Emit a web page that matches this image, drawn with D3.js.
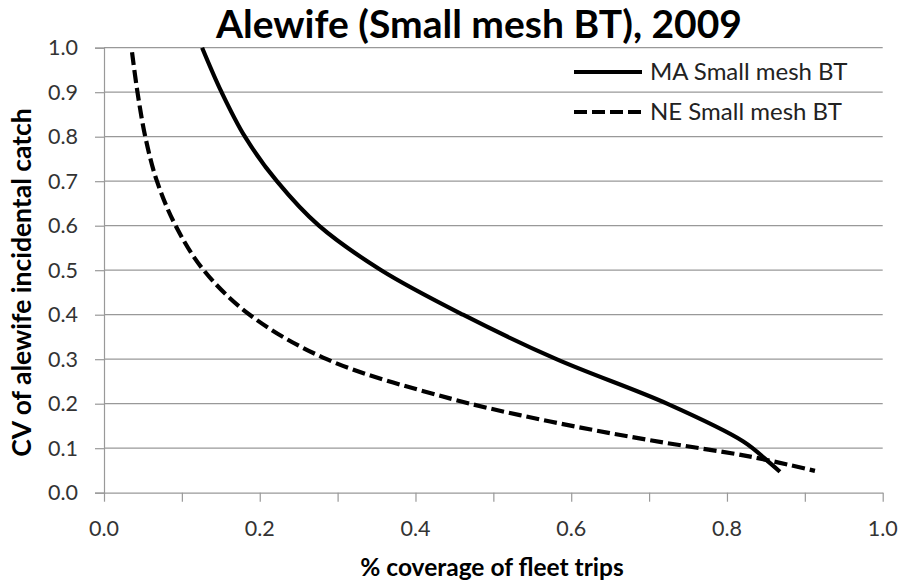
<!DOCTYPE html>
<html>
<head>
<meta charset="utf-8">
<script src="https://cdn.jsdelivr.net/npm/d3@7"></script>
<style>
  body { margin: 0; background: #fff; }
  text { font-family: Lato, "Open Sans", sans-serif; }
</style>
</head>
<body>
<svg id="chart"></svg>
<script>
// Series
const maX = [0.126, 0.151, 0.181, 0.222, 0.276, 0.356, 0.461, 0.581, 0.723, 0.821, 0.855, 0.868];
const maY = [1.0, 0.9, 0.8, 0.7, 0.6, 0.5, 0.4, 0.3, 0.2, 0.115, 0.067, 0.047];
const neX = [0.036, 0.043, 0.053, 0.068, 0.092, 0.128, 0.187, 0.286, 0.444, 0.573, 0.701, 0.830, 0.913];
const neY = [0.99, 0.9, 0.8, 0.7, 0.6, 0.5, 0.4, 0.3, 0.212, 0.160, 0.118, 0.081, 0.049];
const seriesNames = ['MA Small mesh BT', 'NE Small mesh BT'];
const yTicks = [0, 0.1, 0.2, 0.3, 0.4, 0.5, 0.6, 0.7, 0.8, 0.9, 1.0];
const xTicks = [0, 0.2, 0.4, 0.6, 0.8, 1.0];
const xMinorTicks = [0, 0.1, 0.2, 0.3, 0.4, 0.5, 0.6, 0.7, 0.8, 0.9, 1.0];

const width = 901;
const height = 583;
const margin = {top: 47.7, right: 18.3, bottom: 90.3, left: 104};

let svg = d3.select('#chart')
    .attr('width', width)
    .attr('height', height);

let x = d3.scaleLinear()
    .domain([0, 1])
    .range([margin.left, width - margin.right]);

let y = d3.scaleLinear()
    .domain([0, 1])
    .range([height - margin.bottom, margin.top]);

// Horizontal gridlines
svg.append('g')
    .selectAll('line')
    .data(yTicks.slice(1))
    .join('line')
    .attr('x1', x(0))
    .attr('x2', x(1))
    .attr('y1', d => y(d))
    .attr('y2', d => y(d))
    .attr('stroke', '#999')
    .attr('stroke-width', 1.2);

// Y axis
let yAxis = svg.append('g')
    .attr('transform', 'translate(' + x(0) + ',0)')
    .call(d3.axisLeft(y).tickValues(yTicks).tickFormat(d3.format('.1f')).tickSize(9).tickPadding(17));
yAxis.select('.domain').attr('stroke', '#999').attr('stroke-width', 1.2);
yAxis.selectAll('.tick line').attr('stroke', '#999').attr('stroke-width', 1.2);
yAxis.selectAll('.tick text')
    .attr('font-size', 21.5)
    .attr('fill', '#333')
    .attr('font-family', 'Lato, sans-serif');

// X axis: minor ticks every 0.1, labels every 0.2
let xAxis = svg.append('g')
    .attr('transform', 'translate(0,' + y(0) + ')')
    .call(d3.axisBottom(x).tickValues(xMinorTicks).tickFormat('').tickSize(9).tickSizeOuter(0));
xAxis.select('.domain').attr('stroke', '#999').attr('stroke-width', 1.2);
xAxis.selectAll('.tick line').attr('stroke', '#999').attr('stroke-width', 1.2);

svg.append('g')
    .selectAll('text')
    .data(xTicks)
    .join('text')
    .attr('x', d => x(d))
    .attr('y', y(0) + 43)
    .attr('text-anchor', 'middle')
    .attr('font-size', 21.5)
    .attr('fill', '#333')
    .text(d => d3.format('.1f')(d));

// Lines
let line = d3.line()
    .x(d => x(d[0]))
    .y(d => y(d[1]))
    .curve(d3.curveCatmullRom.alpha(0.5));

svg.append('path')
    .datum(d3.zip(maX, maY))
    .attr('fill', 'none')
    .attr('stroke', '#000')
    .attr('stroke-width', 4.2)
    .attr('d', line);

svg.append('path')
    .datum(d3.zip(neX, neY))
    .attr('fill', 'none')
    .attr('stroke', '#000')
    .attr('stroke-width', 4.2)
    .attr('stroke-dasharray', '13,5')
    .attr('d', line);

// Legend
let legend = svg.append('g');
[0, 1].forEach(i => {
    let ly = [72, 112][i];
    legend.append('line')
        .attr('x1', 574).attr('x2', 642)
        .attr('y1', ly).attr('y2', ly)
        .attr('stroke', '#000')
        .attr('stroke-width', 4.2)
        .attr('stroke-dasharray', i === 1 ? '13,5' : null);
    legend.append('text')
        .attr('x', 650)
        .attr('y', ly)
        .attr('dy', '0.35em')
        .attr('font-size', 24)
        .attr('fill', '#222')
        .text(seriesNames[i]);
});

// Title
svg.append('text')
    .attr('x', 479)
    .attr('y', 38)
    .attr('text-anchor', 'middle')
    .attr('font-size', 39)
    .attr('font-weight', 'bold')
    .attr('fill', '#000')
    .text('Alewife (Small mesh BT), 2009');

// Axis titles
svg.append('text')
    .attr('x', 492)
    .attr('y', 576)
    .attr('text-anchor', 'middle')
    .attr('font-size', 24.5)
    .attr('font-weight', 'bold')
    .attr('fill', '#000')
    .text('% coverage of fleet trips');

svg.append('text')
    .attr('transform', 'translate(31,' + 282.5 + ') rotate(-90)')
    .attr('text-anchor', 'middle')
    .attr('font-size', 26.5)
    .attr('font-weight', 'bold')
    .attr('fill', '#000')
    .text('CV of alewife incidental catch');
</script>
</body>
</html>
